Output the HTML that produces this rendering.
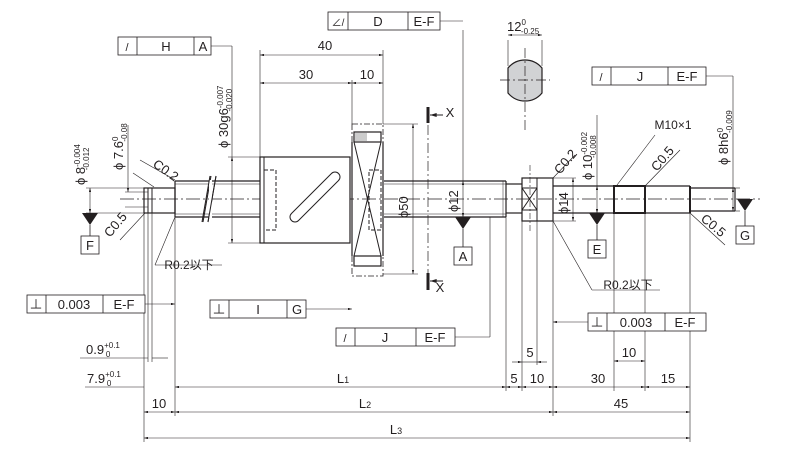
<!DOCTYPE html>
<html><head><meta charset="utf-8"><style>
html,body{margin:0;padding:0;background:#fff;}
svg{display:block;font-family:"Liberation Sans","Noto Sans CJK JP",sans-serif;}
text{fill:#231f20;}
</style></head><body>
<svg width="794" height="460" viewBox="0 0 794 460" xmlns="http://www.w3.org/2000/svg">
<defs>
<marker id="a" viewBox="0 0 10 6" refX="10" refY="3" markerWidth="7" markerHeight="4" orient="auto-start-reverse"><path d="M0,0 L10,3 L0,6z" fill="#231f20"/></marker>
</defs>
<g stroke="#231f20" fill="none" stroke-width="1">
<!-- centerline -->
<line x1="120" y1="199" x2="760" y2="199" stroke-dasharray="14,3,2,3" stroke-width="0.7"/>
<!-- left end -->
<rect x="144" y="188" width="31" height="25" stroke-width="1.2"/>
<line x1="148" y1="188" x2="148" y2="213"/><line x1="152" y1="188" x2="152" y2="213"/>
<!-- main shaft -->
<line x1="175" y1="181" x2="260" y2="181" stroke-width="1.2"/><line x1="175" y1="217" x2="260" y2="217" stroke-width="1.2"/>
<line x1="175" y1="181" x2="175" y2="217" stroke-width="1.2"/>
<line x1="384" y1="181" x2="506" y2="181" stroke-width="1.2"/><line x1="384" y1="217" x2="506" y2="217" stroke-width="1.2"/>
<line x1="384" y1="184" x2="506" y2="184" stroke-width="0.5"/><line x1="384" y1="214" x2="506" y2="214" stroke-width="0.5"/>
<line x1="175" y1="184" x2="260" y2="184" stroke-width="0.5"/><line x1="175" y1="214" x2="260" y2="214" stroke-width="0.5"/>
<!-- break marks -->
<line x1="208" y1="222" x2="216" y2="176" stroke-width="1"/><line x1="203" y1="222" x2="211" y2="176" stroke-width="1"/>
<rect x="209" y="180" width="3" height="38" fill="#fff" stroke="none"/>
<line x1="208" y1="222" x2="216" y2="176"/><line x1="202" y1="222" x2="210" y2="176"/>
<line x1="506" y1="181" x2="506" y2="217" stroke-width="1.2"/>
<line x1="503" y1="181" x2="503" y2="217" stroke-width="0.5"/>
<!-- nut -->
<rect x="260" y="157" width="90" height="86" stroke-width="1.2" fill="#fff"/>
<line x1="264" y1="157" x2="264" y2="243"/>
<rect x="264" y="170" width="12" height="60" stroke-dasharray="4,2"/>
<line x1="295" y1="217" x2="335" y2="177" stroke-width="11" stroke-linecap="round"/>
<line x1="295" y1="217" x2="335" y2="177" stroke-width="9" stroke-linecap="round" stroke="#fff"/>
<!-- flange -->
<rect x="352" y="124" width="31" height="152" stroke-dasharray="6,2,2,2" stroke-width="0.8"/>
<rect x="354" y="132" width="27" height="10" stroke-width="1.2"/>
<rect x="355" y="133" width="12" height="8" fill="#ccc" stroke="none"/>
<rect x="354" y="256" width="27" height="10" stroke-width="1.2"/>
<line x1="352" y1="142" x2="352" y2="256" stroke-width="1.2"/><line x1="383" y1="142" x2="383" y2="256" stroke-width="1.2"/>
<line x1="354" y1="142" x2="381" y2="256"/><line x1="381" y1="142" x2="354" y2="256"/>
<rect x="369" y="170" width="12" height="60" stroke-dasharray="4,2"/>
<!-- neck + bearing -->
<line x1="506" y1="184" x2="522" y2="184" stroke-width="1.2"/><line x1="506" y1="213" x2="522" y2="213" stroke-width="1.2"/>
<rect x="522" y="178" width="31" height="43" stroke-width="1.2"/>
<rect x="522" y="188" width="15" height="22"/>
<line x1="522" y1="188" x2="537" y2="210"/><line x1="537" y1="188" x2="522" y2="210"/>
<line x1="537" y1="178" x2="537" y2="221"/>
<line x1="530" y1="165" x2="530" y2="232" stroke-dasharray="6,2,2,2" stroke-width="0.6"/>
<!-- right shaft -->
<line x1="553" y1="186" x2="690" y2="186" stroke-width="1.2"/><line x1="553" y1="213" x2="690" y2="213" stroke-width="1.2"/>
<rect x="614" y="186" width="31" height="27" stroke-width="2"/>
<line x1="690" y1="186" x2="690" y2="213" stroke-width="2"/>
<line x1="690" y1="188" x2="735" y2="188" stroke-width="1.2"/><line x1="690" y1="211" x2="735" y2="211" stroke-width="1.2"/>
<line x1="735" y1="188" x2="735" y2="211" stroke-width="1.2"/>
<!-- section X -->
<line x1="428" y1="107" x2="428" y2="290" stroke-dasharray="10,3,2,3" stroke-width="0.7"/>
<line x1="428" y1="107" x2="428" y2="123" stroke-width="3"/><line x1="428" y1="273" x2="428" y2="290" stroke-width="3"/>
<line x1="443" y1="115" x2="430" y2="115" marker-end="url(#a)"/><line x1="443" y1="281" x2="430" y2="281" marker-end="url(#a)"/>
<!-- end view -->
<path d="M508,68 A22,22 0 0 1 542,68 L542,93 A22,22 0 0 1 508,93 Z" fill="#d1d2d4" stroke-width="1.2"/>
<line x1="525" y1="48" x2="525" y2="130" stroke-dasharray="10,3,2,3" stroke-width="0.7"/>
<line x1="500" y1="80" x2="550" y2="80" stroke-dasharray="10,3,2,3" stroke-width="0.7"/>
<line x1="508" y1="40" x2="508" y2="66" stroke-width="0.6"/><line x1="542" y1="40" x2="542" y2="66" stroke-width="0.6"/>
<line x1="508" y1="35" x2="542" y2="35" marker-start="url(#a)" marker-end="url(#a)" stroke-width="0.6"/>
</g>
<g stroke="#231f20" fill="none" stroke-width="0.6">
<!-- top dims -->
<line x1="260" y1="50" x2="260" y2="157"/><line x1="352" y1="80" x2="352" y2="124"/><line x1="383" y1="50" x2="383" y2="124"/>
<line x1="260" y1="55" x2="383" y2="55" marker-start="url(#a)" marker-end="url(#a)"/>
<line x1="260" y1="83" x2="352" y2="83" marker-start="url(#a)" marker-end="url(#a)"/>
<line x1="352" y1="83" x2="383" y2="83" marker-start="url(#a)" marker-end="url(#a)"/>
<!-- phi dims vertical -->
<line x1="232" y1="157" x2="232" y2="243" marker-start="url(#a)" marker-end="url(#a)"/>
<line x1="228" y1="157" x2="260" y2="157"/><line x1="228" y1="243" x2="260" y2="243"/>
<line x1="413" y1="124" x2="413" y2="274" marker-start="url(#a)" marker-end="url(#a)"/>
<line x1="383" y1="124" x2="418" y2="124"/><line x1="383" y1="274" x2="418" y2="274"/>
<line x1="463" y1="181" x2="463" y2="217" marker-start="url(#a)" marker-end="url(#a)"/>
<line x1="463" y1="30" x2="463" y2="181"/>
<line x1="573" y1="178" x2="573" y2="221" marker-start="url(#a)" marker-end="url(#a)"/>
<line x1="553" y1="178" x2="576" y2="178"/><line x1="553" y1="221" x2="576" y2="221"/>
<line x1="597" y1="115" x2="597" y2="186"/><line x1="597" y1="186" x2="597" y2="213" marker-start="url(#a)" marker-end="url(#a)"/>
<line x1="733" y1="85" x2="733" y2="188"/><line x1="733" y1="188" x2="733" y2="211" marker-start="url(#a)" marker-end="url(#a)"/>
<line x1="735" y1="188" x2="740" y2="188"/><line x1="735" y1="211" x2="740" y2="211"/>
<line x1="90" y1="188" x2="90" y2="213" marker-start="url(#a)" marker-end="url(#a)"/>
<line x1="86" y1="188" x2="144" y2="188"/><line x1="86" y1="213" x2="144" y2="213"/>
<line x1="128" y1="125" x2="128" y2="192" marker-end="url(#a)"/>
<line x1="125" y1="192" x2="148" y2="192"/><line x1="125" y1="207" x2="148" y2="207"/>
<!-- leaders -->
<line x1="133" y1="173" x2="154" y2="187"/>
<line x1="140" y1="160" x2="175" y2="180"/>
<line x1="145" y1="213" x2="120" y2="240"/>
<line x1="175" y1="217" x2="155" y2="265"/><line x1="155" y1="265" x2="222" y2="265"/>
<line x1="553" y1="178" x2="575" y2="155"/>
<line x1="553" y1="221" x2="592" y2="290"/><line x1="592" y1="290" x2="660" y2="290"/>
<line x1="617" y1="185" x2="655" y2="135"/>
<line x1="645" y1="186" x2="680" y2="150"/>
<line x1="690" y1="213" x2="725" y2="245"/>
<!-- extension lines -->
<line x1="144" y1="213" x2="144" y2="442"/><line x1="148" y1="213" x2="148" y2="362"/>
<line x1="152" y1="213" x2="152" y2="362"/><line x1="175" y1="217" x2="175" y2="416"/>
<line x1="506" y1="217" x2="506" y2="391"/><line x1="522" y1="221" x2="522" y2="391"/>
<line x1="537" y1="221" x2="537" y2="365"/><line x1="553" y1="221" x2="553" y2="416"/>
<line x1="614" y1="213" x2="614" y2="391"/><line x1="645" y1="213" x2="645" y2="391"/>
<line x1="690" y1="213" x2="690" y2="442"/>
<!-- dim rows -->
<line x1="80" y1="358" x2="148" y2="358"/><line x1="152" y1="358" x2="168" y2="358"/>
<line x1="85" y1="387" x2="144" y2="387"/>
<line x1="175" y1="387" x2="506" y2="387" marker-start="url(#a)" marker-end="url(#a)"/>
<line x1="506" y1="387" x2="522" y2="387" marker-start="url(#a)" marker-end="url(#a)"/>
<line x1="522" y1="387" x2="553" y2="387" marker-start="url(#a)" marker-end="url(#a)"/>
<line x1="553" y1="387" x2="645" y2="387" marker-start="url(#a)" marker-end="url(#a)"/>
<line x1="645" y1="387" x2="690" y2="387" marker-start="url(#a)" marker-end="url(#a)"/>
<line x1="144" y1="412" x2="175" y2="412" marker-start="url(#a)" marker-end="url(#a)"/>
<line x1="175" y1="412" x2="553" y2="412" marker-start="url(#a)" marker-end="url(#a)"/>
<line x1="553" y1="412" x2="690" y2="412" marker-start="url(#a)" marker-end="url(#a)"/>
<line x1="144" y1="438" x2="690" y2="438" marker-start="url(#a)" marker-end="url(#a)"/>
<line x1="512" y1="362" x2="522" y2="362" marker-end="url(#a)"/><line x1="547" y1="362" x2="537" y2="362" marker-end="url(#a)"/>
<line x1="522" y1="362" x2="537" y2="362"/>
<line x1="614" y1="361" x2="645" y2="361" marker-start="url(#a)" marker-end="url(#a)"/>
<!-- frame leaders -->
<line x1="211" y1="46" x2="232" y2="46"/><line x1="232" y1="46" x2="232" y2="157"/>
<line x1="440" y1="21" x2="463" y2="21"/>
<line x1="706" y1="76" x2="733" y2="76"/><line x1="733" y1="76" x2="733" y2="85"/>
<line x1="145" y1="304" x2="175" y2="304" marker-end="url(#a)"/>
<line x1="306" y1="309" x2="352" y2="309" marker-end="url(#a)"/>
<line x1="455" y1="337" x2="490" y2="337"/><line x1="490" y1="337" x2="490" y2="217"/>
<line x1="588" y1="322" x2="553" y2="322" marker-end="url(#a)"/>
</g>
<!-- datum triangles -->
<g fill="#231f20">
<path d="M82,213 L98,213 L90,225Z"/><path d="M455,217 L471,217 L463,229Z"/>
<path d="M589,213 L605,213 L597,225Z"/><path d="M737,199 L753,199 L745,211Z"/>
</g>
<g stroke="#231f20" fill="#fff" stroke-width="0.8">
<line x1="90" y1="225" x2="90" y2="236"/><rect x="81" y="236" width="18" height="18"/>
<line x1="463" y1="229" x2="463" y2="247"/><rect x="454" y="247" width="18" height="18"/>
<line x1="597" y1="225" x2="597" y2="240"/><rect x="588" y="240" width="18" height="18"/>
<line x1="745" y1="211" x2="745" y2="226"/><rect x="736" y="226" width="18" height="18"/>
<!-- frames -->
<rect x="118" y="37" width="93" height="18"/><line x1="137" y1="37" x2="137" y2="55"/><line x1="194" y1="37" x2="194" y2="55"/>
<rect x="328" y="12" width="112" height="18"/><line x1="348" y1="12" x2="348" y2="30"/><line x1="408" y1="12" x2="408" y2="30"/>
<rect x="592" y="67" width="114" height="18"/><line x1="611" y1="67" x2="611" y2="85"/><line x1="668" y1="67" x2="668" y2="85"/>
<rect x="27" y="295" width="118" height="18"/><line x1="46" y1="295" x2="46" y2="313"/><line x1="103" y1="295" x2="103" y2="313"/>
<rect x="210" y="300" width="96" height="18"/><line x1="229" y1="300" x2="229" y2="318"/><line x1="287" y1="300" x2="287" y2="318"/>
<rect x="336" y="328" width="119" height="18"/><line x1="355" y1="328" x2="355" y2="346"/><line x1="416" y1="328" x2="416" y2="346"/>
<rect x="588" y="313" width="118" height="18"/><line x1="607" y1="313" x2="607" y2="331"/><line x1="665" y1="313" x2="665" y2="331"/>
</g>
<g font-size="13" text-anchor="middle">
<text x="90" y="250">F</text><text x="463" y="261">A</text><text x="597" y="254">E</text><text x="745" y="240">G</text>
<text x="127" y="51" font-size="11">/</text><text x="166" y="51">H</text><text x="203" y="51">A</text>
<text x="338" y="26" font-size="10">∠/</text><text x="378" y="26">D</text><text x="424" y="26">E-F</text>
<text x="601" y="81" font-size="11">/</text><text x="640" y="81">J</text><text x="687" y="81">E-F</text>
<text x="36" y="309">⊥</text><text x="74" y="309">0.003</text><text x="124" y="309">E-F</text>
<text x="219" y="314">⊥</text><text x="258" y="314">I</text><text x="297" y="314">G</text>
<text x="345" y="342" font-size="11">/</text><text x="385" y="342">J</text><text x="435" y="342">E-F</text>
<text x="597" y="327">⊥</text><text x="636" y="327">0.003</text><text x="685" y="327">E-F</text>
<text x="325" y="50">40</text><text x="306" y="79">30</text><text x="367" y="79">10</text>
<text x="343" y="383">L<tspan font-size="9">1</tspan></text><text x="365" y="408">L<tspan font-size="9">2</tspan></text><text x="396" y="434">L<tspan font-size="9">3</tspan></text>
<text x="159" y="408">10</text><text x="514" y="383">5</text><text x="537" y="383">10</text><text x="598" y="383">30</text><text x="668" y="383">15</text>
<text x="621" y="408">45</text><text x="530" y="357">5</text><text x="629" y="357">10</text>
<text x="450" y="117">X</text><text x="440" y="292">X</text>
<text x="189" y="269" font-size="12">R0.2以下</text><text x="628" y="289" font-size="12">R0.2以下</text>
<text x="673" y="129" font-size="12">M10×1</text>
</g>
<g font-size="13">
<text x="507" y="31">12<tspan font-size="8" dy="-6">0</tspan><tspan font-size="8" dx="-5" dy="9">-0.25</tspan></text>
<text x="86" y="354">0.9<tspan font-size="8" dy="-6">+0.1</tspan><tspan font-size="8" dx="-14" dy="9">0</tspan></text>
<text x="87" y="383">7.9<tspan font-size="8" dy="-6">+0.1</tspan><tspan font-size="8" dx="-14" dy="9">0</tspan></text>
<text transform="translate(152,166) rotate(35)">C0.2</text>
<text transform="translate(110,238) rotate(-50)">C0.5</text>
<text transform="translate(560,175) rotate(-50)">C0.2</text>
<text transform="translate(657,172) rotate(-50)">C0.5</text>
<text transform="translate(700,220) rotate(40)">C0.5</text>
<text transform="translate(85,185) rotate(-90)">ϕ 8<tspan font-size="8" dy="-5">-0.004</tspan><tspan font-size="8" dx="-26" dy="9">-0.012</tspan></text>
<text transform="translate(123,170) rotate(-90)">ϕ 7.6<tspan font-size="8" dy="-5">0</tspan><tspan font-size="8" dx="-5" dy="9">-0.08</tspan></text>
<text transform="translate(228,148) rotate(-90)">ϕ 30g6<tspan font-size="8" dy="-5">-0.007</tspan><tspan font-size="8" dx="-26" dy="9">-0.020</tspan></text>
<text transform="translate(408,218) rotate(-90)">ϕ50</text>
<text transform="translate(458,212) rotate(-90)">ϕ12</text>
<text transform="translate(568,214) rotate(-90)">ϕ14</text>
<text transform="translate(592,180) rotate(-90)">ϕ 10<tspan font-size="8" dy="-5">-0.002</tspan><tspan font-size="8" dx="-26" dy="9">-0.008</tspan></text>
<text transform="translate(728,165) rotate(-90)">ϕ 8h6<tspan font-size="8" dy="-5">0</tspan><tspan font-size="8" dx="-5" dy="9">-0.009</tspan></text>
</g>
</svg>
</body></html>
